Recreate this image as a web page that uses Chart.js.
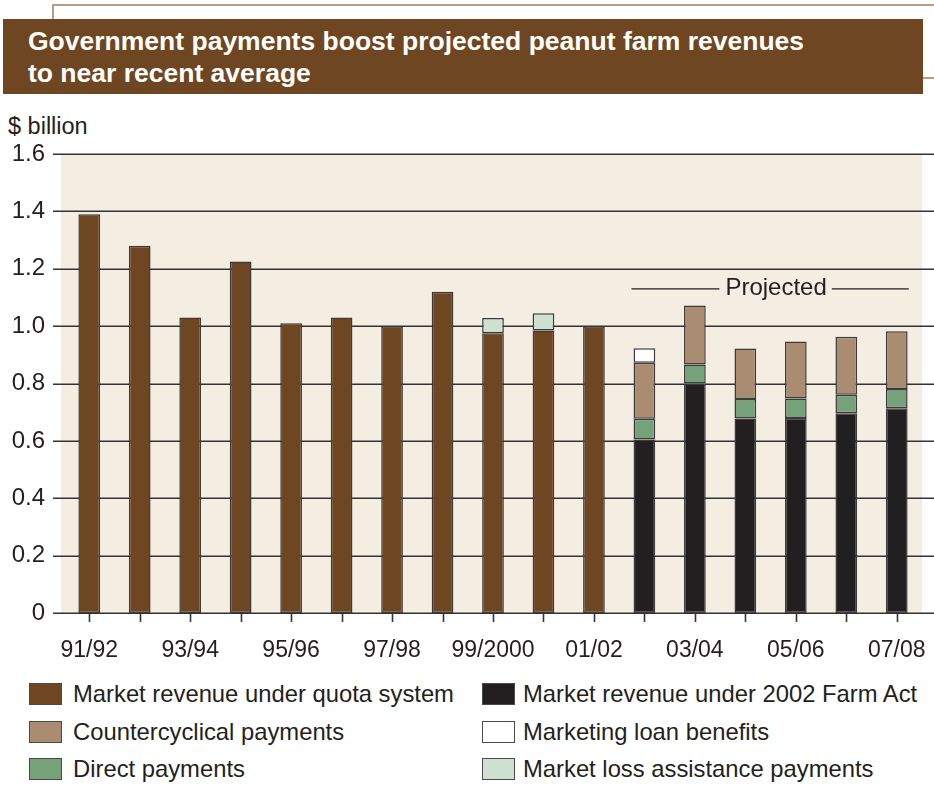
<!DOCTYPE html>
<html>
<head>
<meta charset="utf-8">
<script src="https://cdn.jsdelivr.net/npm/chart.js@4.4.1/dist/chart.umd.min.js"></script>
<style>
  body { margin: 0; background: #fff; font-family: "Liberation Sans", Arial, sans-serif; }
  #page { position: relative; width: 934px; height: 804px; overflow: hidden; }
  #frame { position: absolute; left: 52px; top: 4px; width: 882px; height: 30px;
           border-top: 2px solid #b89e88; border-left: 2px solid #b89e88; }
  #rline { position: absolute; left: 922px; top: 77px; width: 12px; height: 2px; background: #b89e88; }
  #title { position: absolute; left: 3px; top: 19px; width: 920px; height: 75px; background: #6e4622;
           color: #fff; font-weight: bold; font-size: 26.5px; line-height: 32px; padding: 6px 0 0 25px; box-sizing: border-box; }
  #unit { position: absolute; left: 8px; top: 113px; font-size: 23.5px; color: #231f20; }
  #chart { position: absolute; left: 0; top: 100px; }
  #legend { position: absolute; left: 0; top: 683px; width: 934px; }
  .item { position: absolute; height: 22px; font-size: 23.8px; color: #231f20; white-space: nowrap; }
  .box { position: absolute; left: 0; top: 0; width: 33px; height: 22px; box-sizing: border-box; border: 1.5px solid #4a4a4a; }
  .lbl { position: absolute; top: -3px; line-height: 28px; }
</style>
</head>
<body>
<div id="page">
  <div id="frame"></div>
  <div id="rline"></div>
  <div id="title">Government payments boost projected peanut farm revenues<br>to near recent average</div>
  <div id="unit">$ billion</div>
  <canvas id="chart" width="934" height="560"></canvas>
  <div id="legend"></div>
</div>
<script>
// crop years
const years = ['91/92', '92/93', '93/94', '94/95', '95/96', '96/97', '97/98', '98/99', '99/2000',
               '00/01', '01/02', '02/03', '03/04', '04/05', '05/06', '06/07', '07/08'];
const yTicks = [0, 0.2, 0.4, 0.6, 0.8, 1.0, 1.2, 1.4, 1.6];

// $ billion
const quotaRevenue   = [1.39, 1.28, 1.03, 1.225, 1.01, 1.03, 1.00, 1.12, 0.975, 0.985, 1.00, null, null, null, null, null, null];
const farmActRevenue = [null, null, null, null, null, null, null, null, null, null, null, 0.605, 0.80, 0.678, 0.68, 0.696, 0.714];
const directPay      = [null, null, null, null, null, null, null, null, null, null, null, 0.072, 0.066, 0.068, 0.068, 0.065, 0.067];
const counterPay     = [null, null, null, null, null, null, null, null, null, null, null, 0.195, 0.206, 0.176, 0.198, 0.202, 0.201];
const loanBenefits   = [null, null, null, null, null, null, null, null, null, null, null, 0.051, null, null, null, null, null];
const lossAssistance = [null, null, null, null, null, null, null, null, 0.053, 0.06, null, null, null, null, null, null, null];

const colBrown = '#6e4622', colBlack = '#231f20', colGreen = '#76a27a',
      colTan = '#aa8d71', colWhite = '#ffffff', colPale = '#cfe1d1';
const font = '"Liberation Sans", Arial, sans-serif';

function ds(label, data, color) {
    return {
        label: label, data: data, backgroundColor: color,
        borderColor: '#3c3a3a', borderWidth: 1.5, borderSkipped: false,
        stack: 's', categoryPercentage: 1, barPercentage: 0.43
    };
}

const datasets = [
    ds('Market revenue under quota system', quotaRevenue, colBrown),
    ds('Market revenue under 2002 Farm Act', farmActRevenue, colBlack),
    ds('Direct payments', directPay, colGreen),
    ds('Countercyclical payments', counterPay, colTan),
    ds('Marketing loan benefits', loanBenefits, colWhite),
    ds('Market loss assistance payments', lossAssistance, colPale)
];

// background, grid and the "Projected" note
const backdrop = {
    id: 'backdrop',
    beforeDatasetsDraw(chart) {
        const {ctx, chartArea, scales: {x, y}} = chart;
        ctx.save();
        ctx.fillStyle = '#f4ede2';
        ctx.fillRect(61, y.getPixelForValue(1.6), chartArea.right - 61, y.getPixelForValue(0) - y.getPixelForValue(1.6));
        ctx.strokeStyle = '#333333';
        ctx.lineWidth = 1.6;
        yTicks.forEach(v => {
            const py = Math.round(y.getPixelForValue(v)) + 0.25;
            ctx.beginPath();
            ctx.moveTo(53, py);
            ctx.lineTo(chart.width, py);
            ctx.stroke();
        });
        // tick marks under the axis
        const py0 = y.getPixelForValue(0);
        years.forEach((yr, i) => {
            const px = Math.round(x.getPixelForValue(i)) + 0.5;
            ctx.beginPath();
            ctx.moveTo(px, py0);
            ctx.lineTo(px, py0 + 9);
            ctx.stroke();
        });
        ctx.restore();
    },
    afterDatasetsDraw(chart) {
        const {ctx, scales: {x, y}} = chart;
        const left = x.getPixelForValue(11) - 13;
        const right = x.getPixelForValue(16) + 12;
        const py = y.getPixelForValue(1.13);
        ctx.save();
        ctx.font = '24px ' + font;
        ctx.fillStyle = '#231f20';
        ctx.textBaseline = 'middle';
        ctx.textAlign = 'center';
        const text = 'Projected';
        const cx = (left + right) / 2 + 6;
        const w = ctx.measureText(text).width;
        ctx.fillText(text, cx, py);
        ctx.strokeStyle = '#231f20';
        ctx.lineWidth = 1.2;
        ctx.beginPath();
        ctx.moveTo(left, py); ctx.lineTo(cx - w / 2 - 6, py);
        ctx.moveTo(cx + w / 2 + 5, py); ctx.lineTo(right, py);
        ctx.stroke();
        ctx.restore();
    }
};

const chart = new Chart(document.getElementById('chart'), {
    type: 'bar',
    data: { labels: years, datasets: datasets },
    options: {
        responsive: false,
        animation: false,
        devicePixelRatio: 1,
        layout: { padding: { top: 54, right: 12, left: 0, bottom: 0 } },
        plugins: { legend: { display: false }, tooltip: { enabled: false } },
        scales: {
            x: {
                stacked: true,
                grid: { display: false, drawTicks: false },
                border: { display: false },
                afterFit: (scale) => { scale.height = 47; scale.paddingLeft = 0; scale.paddingRight = 0; },
                ticks: {
                    autoSkip: false, maxRotation: 0, padding: 24,
                    color: '#231f20',
                    font: { family: font, size: 23 },
                    callback: function(value, index) { return index % 2 === 0 ? years[index] : ''; }
                }
            },
            y: {
                stacked: true,
                min: 0, max: 1.6,
                grid: { display: false, drawTicks: false },
                border: { display: false },
                afterFit: (scale) => { scale.width = 64; },
                ticks: {
                    stepSize: 0.2, padding: 19,
                    color: '#231f20',
                    font: { family: font, size: 24 },
                    callback: (v) => v === 0 ? '0' : v.toFixed(1)
                }
            }
        }
    },
    plugins: [backdrop]
});

// legend in two columns, built from the datasets
const legendOrder = [
    ['Market revenue under quota system', 0, 0], ['Market revenue under 2002 Farm Act', 1, 0],
    ['Countercyclical payments', 0, 1],          ['Marketing loan benefits', 1, 1],
    ['Direct payments', 0, 2],                   ['Market loss assistance payments', 1, 2]
];
const legend = document.getElementById('legend');
legendOrder.forEach(([name, col, row]) => {
    const d = chart.data.datasets.find(s => s.label === name);
    const item = document.createElement('div');
    item.className = 'item';
    item.style.left = (col === 0 ? 29 : 482) + 'px';
    item.style.top = (row * 37.5) + 'px';
    item.innerHTML = '<span class="box" style="background:' + d.backgroundColor + '"></span>' +
        '<span class="lbl" style="left:' + (col === 0 ? 44 : 41) + 'px">' + name + '</span>';
    legend.appendChild(item);
});
</script>
</body>
</html>
